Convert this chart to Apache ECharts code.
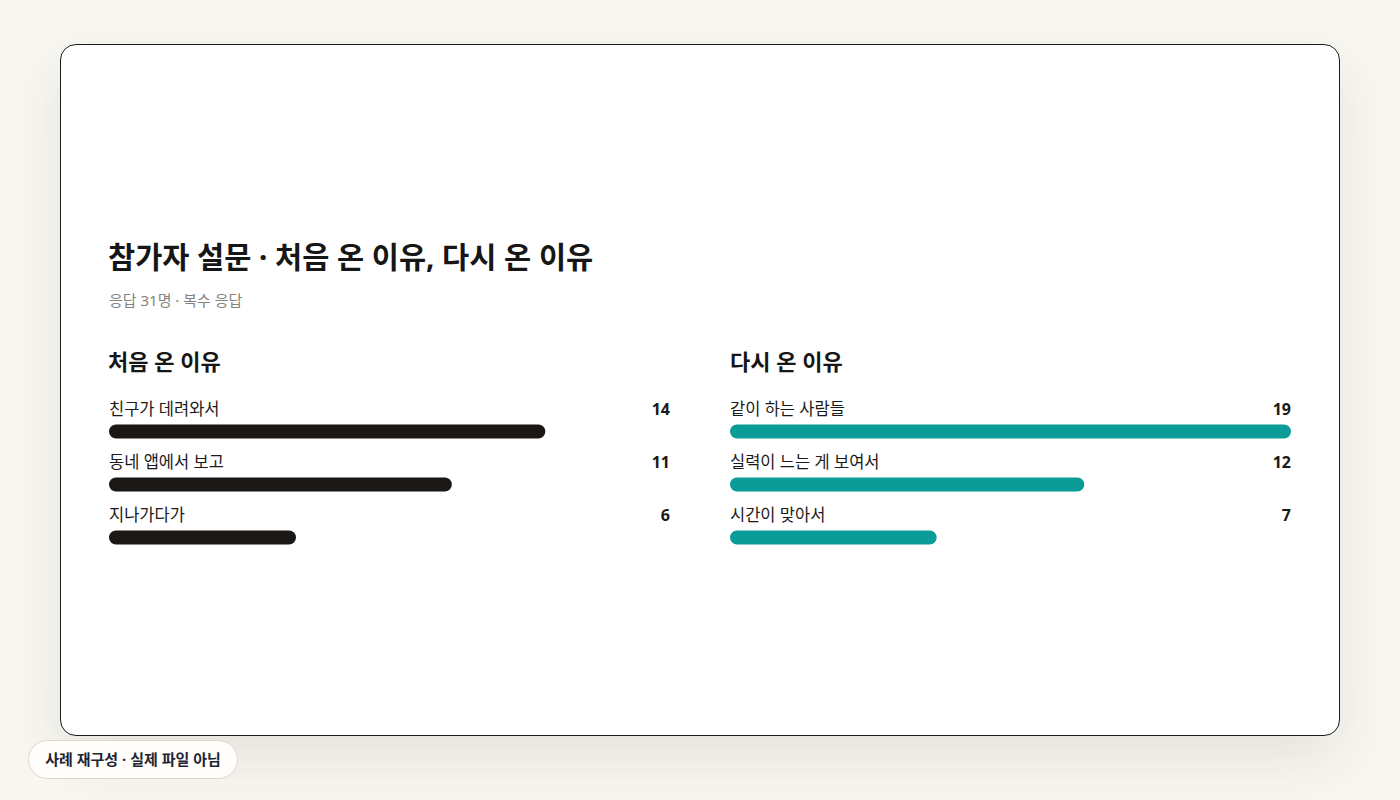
<!DOCTYPE html>
<html><head><meta charset="utf-8">
<script src="https://cdn.jsdelivr.net/npm/echarts@6/dist/echarts.min.js"></script>
<style>
html,body{margin:0;padding:0;width:1400px;height:800px;background:#f8f7f2;overflow:hidden;font-family:"Noto Sans","Noto Sans CJK KR",sans-serif;}
#card{position:absolute;left:60px;top:44px;width:1278px;height:690px;background:#fff;border:1px solid #1c1c1c;border-radius:16px;box-shadow:0 24px 60px rgba(60,50,30,0.10);overflow:hidden;}
#chart{position:absolute;left:-1px;top:-1px;width:1280px;height:692px;}
#note{position:absolute;left:28px;top:740px;width:208px;height:37px;border:1px solid #ddd8cb;border-radius:20px;background:#fffefa;color:#1e2433;font-size:15px;font-weight:700;line-height:37px;text-align:center;}
</style></head>
<body>
<div id="card"><div id="chart"></div></div>
<div id="note">사례 재구성 · 실제 파일 아님</div>
<script>
const titleText = '참가자 설문 · 처음 온 이유, 다시 온 이유';
const subtitleText = '응답 31명 · 복수 응답';
const firstTitle = '처음 온 이유';
const firstCategories = ['친구가 데려와서', '동네 앱에서 보고', '지나가다가'];
const firstValues = [14, 11, 6];
const againTitle = '다시 온 이유';
const againCategories = ['같이 하는 사람들', '실력이 느는 게 보여서', '시간이 맞아서'];
const againValues = [19, 12, 7];

const font = '"Noto Sans","Noto Sans CJK KR",sans-serif';
const chart = echarts.init(document.getElementById('chart'), null, {renderer: 'svg'});
const gridW = 561;

function labelCfg() {
  return {
    show: true,
    position: [0, -16],
    align: 'left',
    verticalAlign: 'middle',
    width: gridW,
    fontFamily: font,
    formatter: p => '{n|' + p.name + '}{v|' + p.value + '}',
    rich: {
      n: {fontSize: 16.5, color: '#1a1a1a', fontFamily: font, align: 'left'},
      v: {fontSize: 16, fontWeight: 700, color: '#1a1a1a', fontFamily: font, align: 'right'}
    }
  };
}

chart.setOption({
  animation: false,
  title: [
    {text: titleText, left: 48, top: 198, padding: 0, textStyle: {fontFamily: font, fontSize: 29.5, fontWeight: 700, color: '#161616'}},
    {text: subtitleText, left: 49, top: 248, padding: 0, textStyle: {fontFamily: font, fontSize: 15, fontWeight: 400, color: '#85837d'}},
    {text: firstTitle, left: 48, top: 306, padding: 0, textStyle: {fontFamily: font, fontSize: 22, fontWeight: 700, color: '#161616'}},
    {text: againTitle, left: 670, top: 306, padding: 0, textStyle: {fontFamily: font, fontSize: 22, fontWeight: 700, color: '#161616'}}
  ],
  grid: [
    {left: 49, top: 361, width: gridW, height: 159},
    {left: 670, top: 361, width: gridW, height: 159}
  ],
  xAxis: [
    {gridIndex: 0, type: 'value', min: 0, max: 18, show: false},
    {gridIndex: 1, type: 'value', min: 0, max: 19, show: false}
  ],
  yAxis: [
    {gridIndex: 0, type: 'category', data: firstCategories, inverse: true, show: false},
    {gridIndex: 1, type: 'category', data: againCategories, inverse: true, show: false}
  ],
  series: [
    {type: 'bar', xAxisIndex: 0, yAxisIndex: 0, data: firstValues, barWidth: 14,
     itemStyle: {color: '#1b1715', borderRadius: 7}, label: labelCfg()},
    {type: 'bar', xAxisIndex: 1, yAxisIndex: 1, data: againValues, barWidth: 14,
     itemStyle: {color: '#0b9c97', borderRadius: 7}, label: labelCfg()}
  ]
});
</script>
</body></html>
